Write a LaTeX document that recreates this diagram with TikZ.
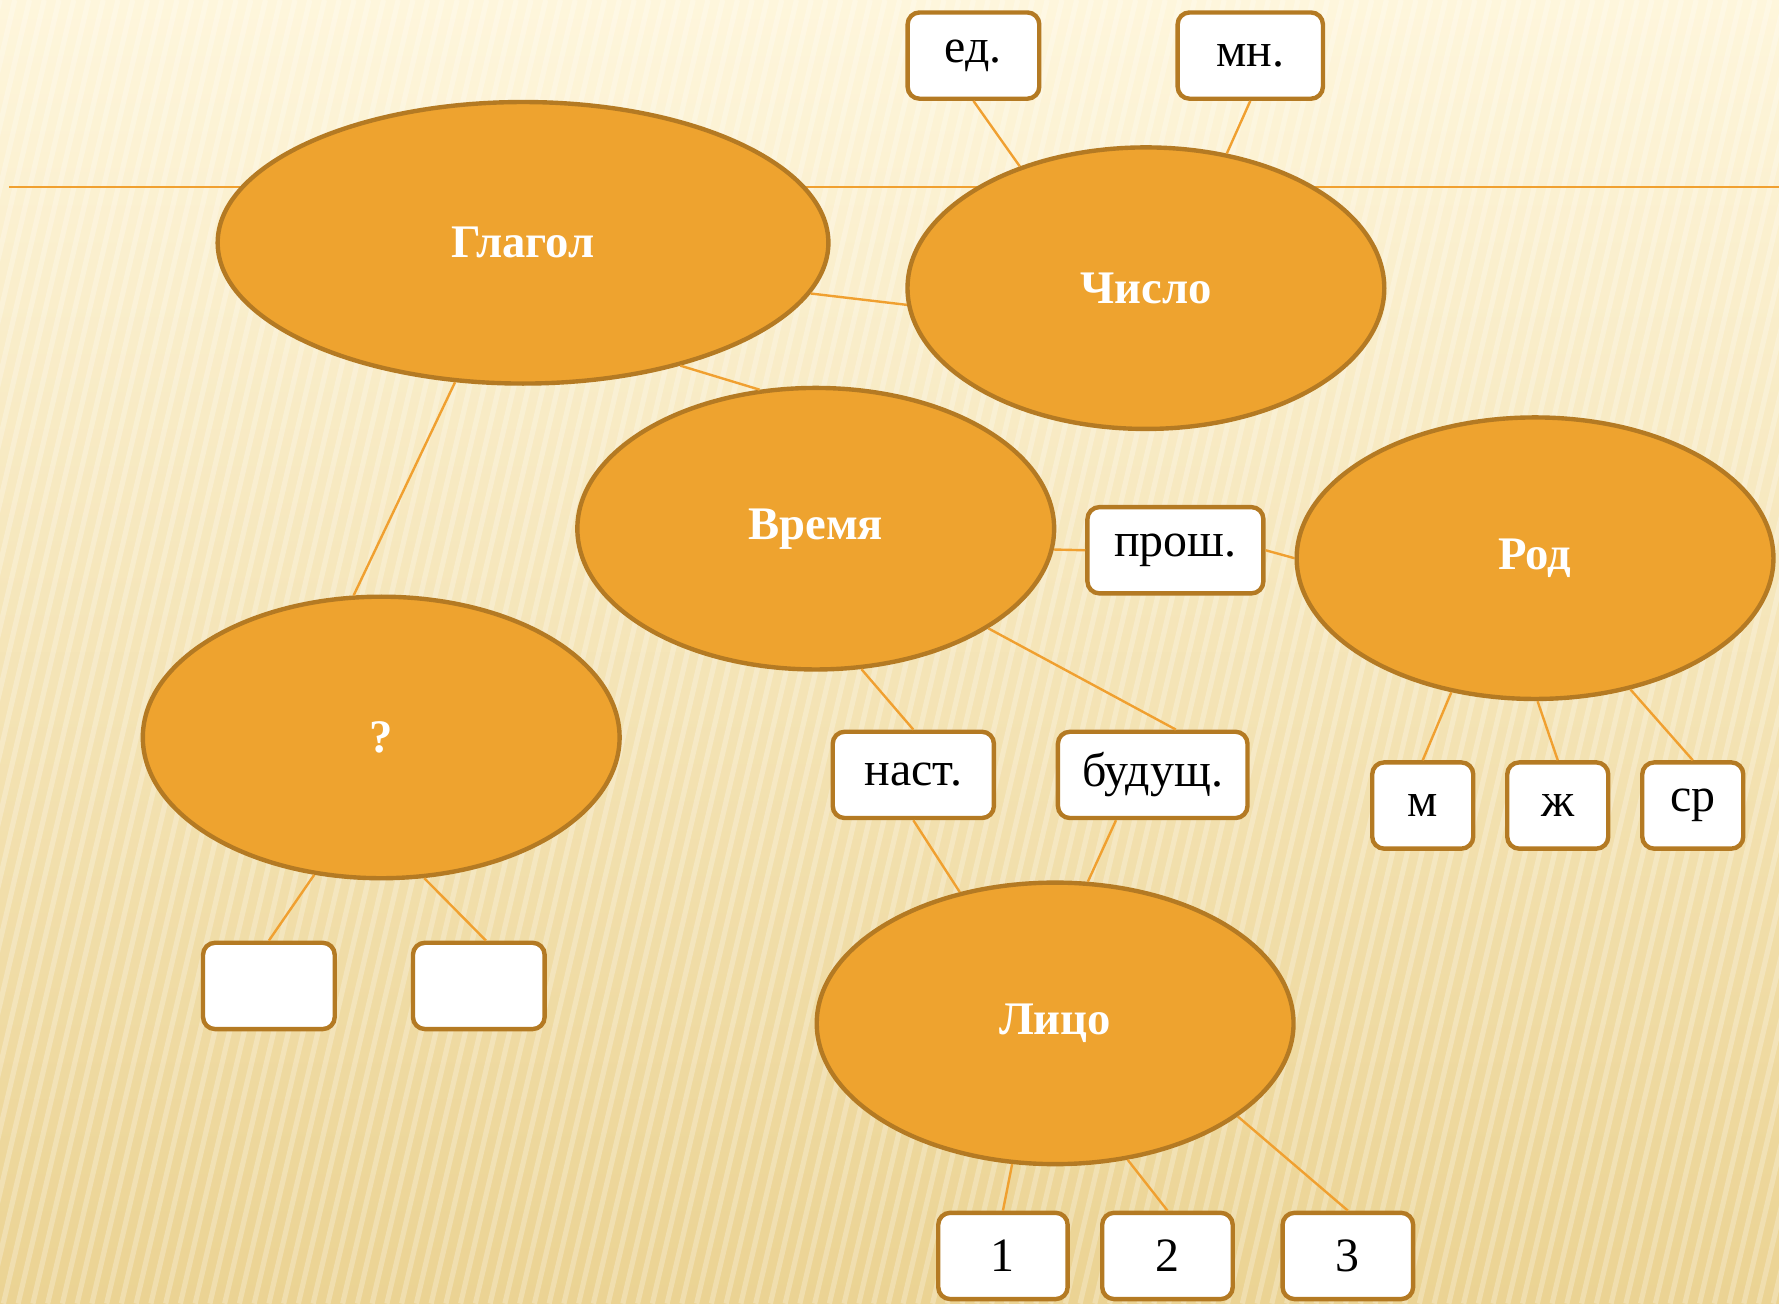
\documentclass[tikz,border=0pt]{standalone}
\usepackage{fontspec}
\setmainfont{Liberation Serif}
\usetikzlibrary{shapes.geometric}
\definecolor{bgtop}{HTML}{FEF6DC}
\definecolor{bgbot}{HTML}{EBD393}
\definecolor{oval}{HTML}{EEA32F}
\definecolor{rim}{HTML}{B47A23}
\definecolor{wirec}{HTML}{F0A030}
\tikzset{
	topic/.style={ellipse,draw=rim,fill=oval,line width=1.1pt,minimum width=4.2cm,minimum height=2.48cm,inner sep=0pt,text=white,font=\fontsize{11.7}{14}\selectfont\bfseries},
	tag/.style={rectangle,rounded corners=3pt,draw=rim,fill=white,line width=1.1pt,minimum height=0.76cm,inner sep=0pt,font=\fontsize{12}{14}\selectfont},
	wire/.style={draw=wirec,line width=0.6pt}
}
\begin{document}
\begin{tikzpicture}[x=0.01cm,y=-0.01cm]
		% background
		\fill[top color=bgtop,bottom color=bgbot] (0,0) rectangle (1568,1149);
		\begin{scope}
		\clip (0,0) rectangle (1568,1149);
		\foreach \x in {0,13,...,1850}
			\draw[white,opacity=0.25,line width=1.3pt] (\x,0) -- (\x-270,1149);
		\end{scope}
		\useasboundingbox (0,0) rectangle (1568,1149);
		\draw[wire] (8,165) -- (1568,165);
		% ovals
		\node[topic,minimum width=5.38cm] (glagol) at (461,214) {Глагол};
		\node[topic] (chislo) at (1010,254) {Число};
		\node[topic] (vremya) at (719,466) {Время};
		\node[topic] (rod) at (1353,492) {Род};
		\node[topic] (vopros) at (336,650) {?};
		\node[topic] (litso) at (930,902) {Лицо};
		% boxes
		\node[tag,minimum width=1.16cm] (ed) at (858,49) {ед.};
		\node[tag,minimum width=1.28cm] (mn) at (1102,49) {мн.};
		\node[tag,minimum width=1.55cm] (prosh) at (1036,485) {прош.};
		\node[tag,minimum width=1.42cm] (nast) at (805,683) {наст.};
		\node[tag,minimum width=1.67cm] (bud) at (1016,683) {будущ.};
		\node[tag,minimum width=0.89cm] (m) at (1254,710) {м};
		\node[tag,minimum width=0.89cm] (zh) at (1373,710) {ж};
		\node[tag,minimum width=0.89cm] (sr) at (1492,710) {ср};
		\node[tag,minimum width=1.16cm] (blanka) at (237,869) {};
		\node[tag,minimum width=1.16cm] (blankb) at (422,869) {};
		\node[tag,minimum width=1.14cm] (one) at (884,1107) {1};
		\node[tag,minimum width=1.15cm] (two) at (1029,1107) {2};
		\node[tag,minimum width=1.15cm] (three) at (1188,1107) {3};
		% links
		\draw[wire] (ed.south) -- (chislo.136.7);
		\draw[wire] (mn.south) -- (chislo.59.5);
		\draw[wire] (glagol.-10.3) -- (chislo.184.9);
		\draw[wire] (glagol.-38.9) -- (vremya.112.8);
		\draw[wire] (glagol.244.9) -- (vopros.101.7);
		\draw[wire] (vremya.-5.4) -- (prosh.west);
		\draw[wire] (prosh.east) -- (rod.180);
		\draw[wire] (vremya.-72) -- (nast.north);
		\draw[wire] (vremya.-30.6) -- (bud.63.4);
		\draw[wire] (nast.south) -- (litso.126.1);
		\draw[wire] (bud.231.2) -- (litso.77.5);
		\draw[wire] (rod.238) -- (m.north);
		\draw[wire] (rod.-89) -- (zh.north);
		\draw[wire] (rod.-54) -- (sr.north);
		\draw[wire] (vopros.-116.2) -- (blanka.north);
		\draw[wire] (vopros.-73.6) -- (blankb.81.5);
		\draw[wire] (litso.-107.3) -- (one.north);
		\draw[wire] (litso.-62) -- (two.north);
		\draw[wire] (litso.-27.7) -- (three.north);
\end{tikzpicture}
\end{document}
